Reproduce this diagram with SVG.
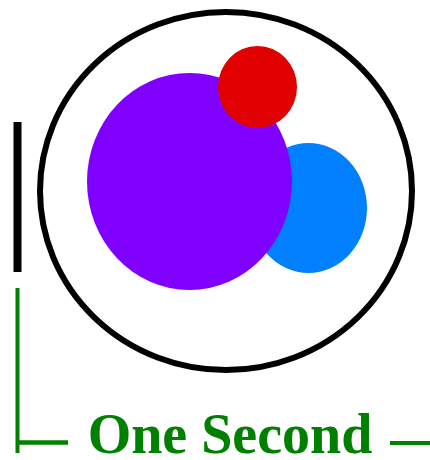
<svg xmlns="http://www.w3.org/2000/svg" width="430" height="460" viewBox="0 0 430 460">
<style>
.g{stroke:#008000;fill:none}
.t{font-family:"Liberation Serif","Times New Roman",serif;font-weight:bold;font-size:56px;fill:#008000}
</style>
<rect width="430" height="460" fill="#fff"/>
<g id="outer"><ellipse cx="226" cy="191" rx="186" ry="179" fill="none" stroke="#000" stroke-width="6"/></g>
<g id="blue"><ellipse cx="308.5" cy="208" rx="58.5" ry="65" fill="#0080ff"/></g>
<g id="purple"><ellipse cx="189.5" cy="181.5" rx="102.5" ry="108.5" fill="#8000ff"/></g>
<g id="red"><ellipse cx="257.5" cy="87" rx="39.5" ry="41" fill="#e00000"/></g>
<g id="bar"><rect x="13.5" y="122" width="8" height="150" fill="#000"/></g>
<g id="scale">
<path class="g" d="M17.5 288V453" stroke-width="4"/>
<path class="g" d="M16 442.5H68" stroke-width="4.5"/>
<path class="g" d="M390 443H430" stroke-width="4"/>
<text class="t" x="230" y="453" text-anchor="middle">One Second</text>
</g>
</svg>
